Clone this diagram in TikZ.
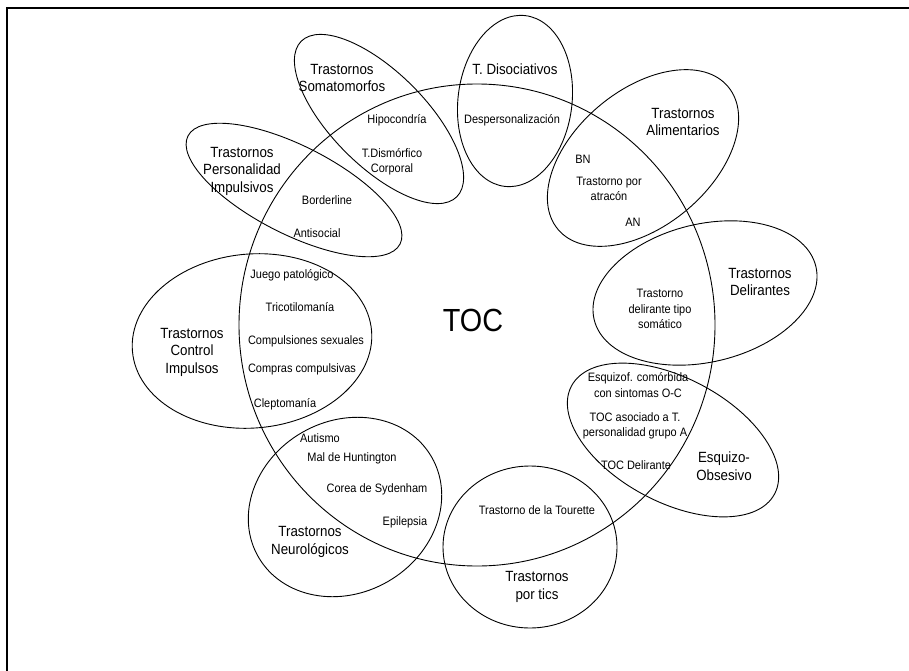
\documentclass[tikz,border=0pt]{standalone}
\usepackage{fontspec}
\setmainfont{Liberation Sans}[FakeStretch=0.9]
\begin{document}
\begin{tikzpicture}[x=1pt,y=-1pt,
  petal/.style={draw=black, line width=0.9pt},
  small/.style={font=\fontsize{12.2}{15.5}\selectfont, align=center, inner sep=0pt},
  big/.style={font=\fontsize{14.8}{17.5}\selectfont, align=center, inner sep=0pt},
  title/.style={font=\fontsize{32}{34}\selectfont, inner sep=0pt}
]
\useasboundingbox (0,0) rectangle (909,671);
\fill[white] (0,0) rectangle (909,671);
% frame
\draw[line width=2pt] (7,671) -- (7,7.7) -- (909,7.7);

% central set
\draw[petal] (477,325) ellipse [x radius=238pt, y radius=241pt];
% surrounding sets
\draw[petal, rotate around={-45:(379,119)}] (379,119) ellipse [x radius=110pt, y radius=47pt];   % somatomorfos
\draw[petal, rotate around={-7:(515,101)}]  (515,101) ellipse [x radius=57pt,  y radius=86pt];   % disociativos
\draw[petal, rotate around={40:(643,158)}]  (643,158) ellipse [x radius=111pt, y radius=68pt];   % alimentarios
\draw[petal, rotate around={13.5:(705,293)}] (705,293) ellipse [x radius=114pt, y radius=69pt];  % delirantes
\draw[petal, rotate around={-28:(673,440)}] (673,440) ellipse [x radius=115pt, y radius=62pt];   % esquizo-obsesivo
\draw[petal] (530,547) ellipse [x radius=87pt, y radius=81pt];                                   % tics
\draw[petal, rotate around={30:(345,507)}]  (345,507) ellipse [x radius=100pt, y radius=86pt];   % neurologicos
\draw[petal, rotate around={5:(252,341)}]   (252,341) ellipse [x radius=120pt, y radius=87pt];   % control impulsos
\draw[petal, rotate around={-27:(294,190)}] (294,190) ellipse [x radius=119pt, y radius=44pt];   % personalidad

% centre label
\node[title] (toc) at (473,320) {TOC};

% somatomorfos
\node[big] (somL) at (342,78) {Trastornos\\Somatomorfos};
\node[small] (hipo) at (397,120) {Hipocondría};
\node[small] (dism) at (392,162) {T.Dismórfico\\Corporal};

% disociativos
\node[big] (disL) at (515,69) {T. Disociativos};
\node[small] (desp) at (512,120) {Despersonalización};

% alimentarios
\node[big] (aliL) at (683,122) {Trastornos\\Alimentarios};
\node[small] (bn) at (583,159) {BN};
\node[small] (atra) at (609,189) {Trastorno por\\atracón};
\node[small] (an) at (633,222) {AN};

% delirantes
\node[big] (delL) at (760,282) {Trastornos\\Delirantes};
\node[small] (soma) at (660,309) {Trastorno\\delirante tipo\\somático};

% esquizo-obsesivo
\node[small] (esq1) at (638,385) {Esquizof. comórbida\\con sintomas O-C};
\node[small] (esq2) at (635,426) {TOC asociado a T.\\personalidad grupo A};
\node[small] (esq3) at (636,465) {TOC Delirante};
\node[big] (esqL) at (724,466) {Esquizo-\\Obsesivo};

% tics
\node[small] (tour) at (537,510) {Trastorno de la Tourette};
\node[big] (ticL) at (537,587) {Trastornos\\por tics};

% neurologicos
\node[small] (aut) at (320,438) {Autismo};
\node[small] (hunt) at (352,458) {Mal de Huntington};
\node[small] (syd) at (377,489) {Corea de Sydenham};
\node[small] (epi) at (405,522) {Epilepsia};
\node[big] (neuL) at (310,542) {Trastornos\\Neurológicos};

% control de impulsos
\node[small] (jue) at (292,275) {Juego patológico};
\node[small] (tri) at (300,307) {Tricotilomanía};
\node[small] (csex) at (306,341) {Compulsiones sexuales};
\node[small] (comp) at (302,369) {Compras compulsivas};
\node[small] (clep) at (285,404) {Cleptomanía};
\node[big] (conL) at (192,352) {Trastornos\\Control\\Impulsos};

% personalidad
\node[big] (perL) at (242,171) {Trastornos\\Personalidad\\Impulsivos};
\node[small] (bord) at (327,200) {Borderline};
\node[small] (anti) at (317,233) {Antisocial};
\end{tikzpicture}
\end{document}
